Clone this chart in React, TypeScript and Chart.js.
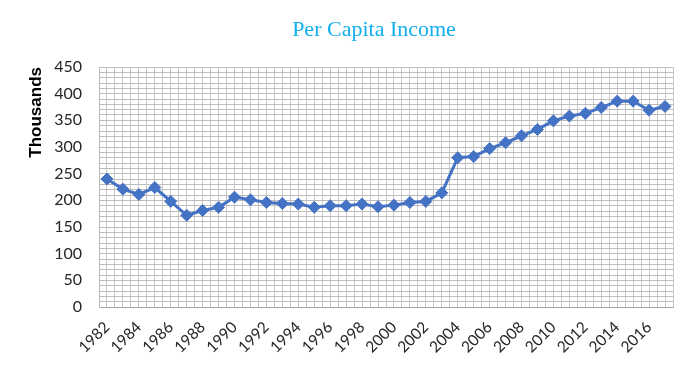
import React, { useEffect, useRef } from "react";
import { Chart, registerables } from "chart.js";

Chart.register(...registerables);

const TITLE = "Per Capita Income";
const Y_TITLE = "Thousands";
const years: number[] = [
  1982, 1983, 1984, 1985, 1986, 1987, 1988, 1989, 1990, 1991, 1992, 1993,
  1994, 1995, 1996, 1997, 1998, 1999, 2000, 2001, 2002, 2003, 2004, 2005,
  2006, 2007, 2008, 2009, 2010, 2011, 2012, 2013, 2014, 2015, 2016, 2017,
];
const income: number[] = [
  240, 221, 211, 224, 198, 172, 181, 187, 206, 201, 196, 194,
  193, 187, 190, 190, 193, 188, 191, 196, 198, 214, 280, 282,
  297, 308, 321, 333, 349, 358, 363, 374, 386, 386, 369, 376,
];
const xTickLabels: number[] = [
  1982, 1984, 1986, 1988, 1990, 1992, 1994, 1996, 1998, 2000, 2002, 2004,
  2006, 2008, 2010, 2012, 2014, 2016,
];
const yTickLabels: number[] = [0, 50, 100, 150, 200, 250, 300, 350, 400, 450];

const titlePlugin = {
  id: "excelTitle",
  afterDraw(chart: any) {
    const ctx = chart.ctx;
    ctx.save();
    ctx.font = '22px "Liberation Serif"';
    ctx.fillStyle = "#12AFEF";
    ctx.textAlign = "center";
    ctx.textBaseline = "alphabetic";
    ctx.fillText(TITLE, 374, 36);
    ctx.restore();
  },
};

export default function App() {
  const ref = useRef<HTMLCanvasElement | null>(null);
  useEffect(() => {
    if (!ref.current) return;
    const chart = new Chart(ref.current, {
      type: "line",
      data: {
        datasets: [
          {
            data: years.map((y, i) => ({ x: y, y: income[i] })),
            borderColor: "#4472C4",
            backgroundColor: "#4472C4",
            borderWidth: 3,
            pointStyle: "rectRot",
            pointRadius: 6,
            pointBorderWidth: 1,
            pointBorderColor: "#4472C4",
            tension: 0,
          },
        ],
      },
      options: {
        animation: false,
        responsive: false,
        layout: { padding: { top: 67, right: 27, left: 0, bottom: 0 } },
        plugins: {
          legend: { display: false },
          title: { display: false },
          tooltip: { enabled: false },
        },
        scales: {
          x: {
            type: "linear",
            min: 1981.5,
            max: 2017.5,
            afterFit: (s: any) => {
              s.height = 68;
            },
            ticks: {
              stepSize: 0.5,
              autoSkip: false,
              maxRotation: 45,
              minRotation: 45,
              padding: 11,
              color: "#262626",
              font: { family: "Lato", size: 15.5 },
              callback: (v: any) =>
                xTickLabels.includes(Number(v)) ? String(v) : "",
            },
            grid: { color: "#c8c8c8", drawTicks: false },
            border: { color: "#a6a6a6", width: 1 },
          },
          y: {
            min: 0,
            max: 450,
            afterFit: (s: any) => {
              s.width = 99;
            },
            ticks: {
              stepSize: 10,
              autoSkip: false,
              padding: 17,
              color: "#262626",
              font: { family: "Lato", size: 16 },
              callback: (v: any) =>
                yTickLabels.includes(Number(v)) ? String(v) : "",
            },
            grid: { color: "#bcbcbc", drawTicks: false },
            border: { color: "#bcbcbc" },
            title: {
              display: true,
              text: Y_TITLE,
              align: "end",
              color: "#000000",
              font: { family: "Liberation Sans", size: 17, weight: "bold" },
              padding: { top: 26, bottom: 0 },
            },
          },
        },
      },
      plugins: [titlePlugin],
    });
    return () => chart.destroy();
  }, []);
  return (
    <div style={{ position: "absolute", left: 0, top: 0, width: 700, height: 375 }}>
      <canvas ref={ref} width={700} height={375} />
    </div>
  );
}
